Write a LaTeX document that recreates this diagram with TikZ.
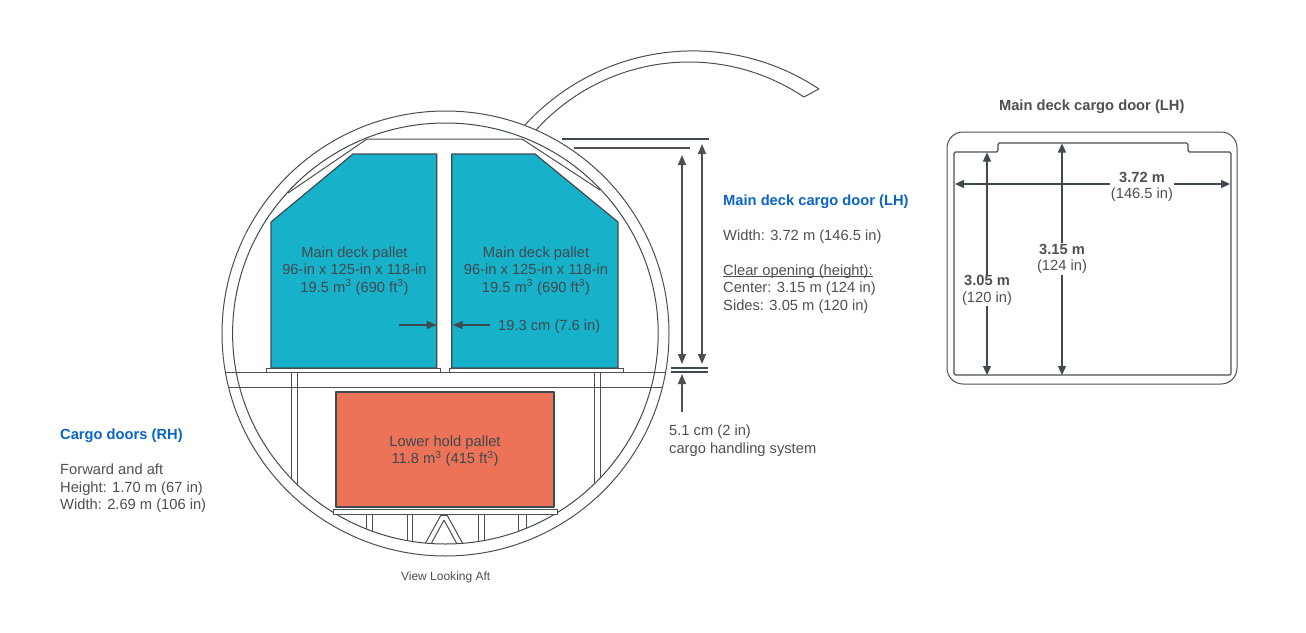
\documentclass[tikz,border=0pt]{standalone}
\usepackage{fontspec}
\setmainfont{Liberation Sans}
\usetikzlibrary{arrows.meta}
\definecolor{linec}{HTML}{4F4F4F}
\definecolor{darkc}{HTML}{3F4A50}
\definecolor{textc}{HTML}{505050}
\definecolor{tealc}{HTML}{17B1C9}
\definecolor{redc}{HTML}{EC7258}
\definecolor{bluec}{HTML}{0A66C2}
\newlength\myulw
\newcommand\myul[1]{\settowidth{\myulw}{#1}\leavevmode\rlap{\rule[-1.6pt]{\myulw}{0.8pt}}#1}
\tikzset{
  thin line/.style={draw=linec,line width=1pt},
  pallet/.style={draw=darkc,line width=1.2pt,line join=round},
  dimline/.style={draw=linec,line width=1.3pt,-{Triangle[length=10pt,width=8pt]}},
  bothdim/.style={draw=darkc,line width=1.3pt,{Triangle[length=9pt,width=8pt]}-{Triangle[length=9pt,width=8pt]}},
  rule/.style={draw=darkc,line width=1.3pt},
  label/.style={text=textc,font=\fontsize{14.7}{17.4}\selectfont,inner sep=0pt,align=center},
  leftlabel/.style={label,align=left,anchor=west},
  head/.style={text=bluec,font=\fontsize{14.7}{17.4}\selectfont\bfseries,inner sep=0pt,anchor=west},
  doordim/.style={label,fill=white,inner sep=1pt,font=\fontsize{14.7}{16.4}\selectfont}
}
\begin{document}
\begin{tikzpicture}[x=1pt,y=-1pt]
\useasboundingbox (0,0) rectangle (1306,632);
\fill[white] (0,0) rectangle (1306,632);
% door arc
\draw[thin line,line join=round] plot[domain=-137.6:-56.4,samples=70] ({693+227.5*cos(\x)},{278.4+227.5*sin(\x)})
  -- plot[domain=-56.1:-137.9,samples=70] ({689+206.1*cos(\x)},{268.1+206.1*sin(\x)});
% fuselage
\fill[white] (445.5,333.5) ellipse [x radius=223.5,y radius=222.5];
\draw[thin line] (445.5,333.5) ellipse [x radius=223.5,y radius=222.5];
\draw[thin line,draw=darkc] (445.4,333.5) ellipse [x radius=212.8,y radius=210.5];
% ceiling
\draw[thin line] (288,193) -- (367,139) -- (522,139) -- (600,190);
% floors
\begin{scope}
\clip (445.5,333.5) ellipse [x radius=223.5,y radius=222.5];
\draw[thin line] (200,372) -- (690,372);
\draw[thin line] (200,387) -- (690,387);
\end{scope}
% struts
\begin{scope}
\clip (445.4,333.5) ellipse [x radius=212.8,y radius=210.5];
\draw[thin line] (291,372) -- (291,560) (297,372) -- (297,560);
\draw[thin line] (594,372) -- (594,560) (600,372) -- (600,560);
\draw[thin line] (366,514) -- (366,560) (372,514) -- (372,560);
\draw[thin line] (407,514) -- (407,560) (412,514) -- (412,560);
\draw[thin line] (478,514) -- (478,560) (484,514) -- (484,560);
\draw[thin line] (518,514) -- (518,560) (526,514) -- (526,560);
\draw[thin line] (441,515) -- (425,544) (444,520) -- (431,544);
\draw[thin line] (447,515) -- (463,544) (444,520) -- (457,544);
\draw[thin line] (441,515) -- (447,515);
\end{scope}
% plates
\draw[thin line,fill=white] (266,368) rectangle (440,372);
\draw[thin line,fill=white] (449,368) rectangle (623,372);
\draw[thin line,fill=white] (333,509) rectangle (557,514);
% pallets
\draw[pallet,fill=tealc] (271,222) -- (353,154) -- (436.7,154) -- (436.7,368) -- (271,368) -- cycle;
\draw[pallet,fill=tealc] (451.7,154) -- (535,154) -- (618,222) -- (618,368) -- (451.7,368) -- cycle;
\draw[pallet,fill=redc] (336,392) rectangle (554,507);
% pallet texts
\node[label,text=darkc] (palletL) at (354.5,271) {Main deck pallet\\96-in x 125-in x 118-in\\19.5 m\textsuperscript{3} (690 ft\textsuperscript{3})};
\node[label,text=darkc] (palletR) at (536,271) {Main deck pallet\\96-in x 125-in x 118-in\\19.5 m\textsuperscript{3} (690 ft\textsuperscript{3})};
\node[label,text=darkc] (lower) at (445,451) {Lower hold pallet\\11.8 m\textsuperscript{3} (415 ft\textsuperscript{3})};
\node[label,text=darkc,anchor=west] (gap) at (498,326.5) {19.3 cm (7.6 in)};
% gap arrows
\coordinate (gapLa) at (399,325); \coordinate (gapLb) at (436.7,325);
\coordinate (gapRa) at (490,325); \coordinate (gapRb) at (452.7,325);
\draw[dimline,draw=darkc] (gapLa) -- (gapLb);
\draw[dimline,draw=darkc] (gapRa) -- (gapRb);
% height dims
\coordinate (r1a) at (562,139); \coordinate (r1b) at (709,139);
\coordinate (r2a) at (574,148); \coordinate (r2b) at (690,148);
\coordinate (r3a) at (671,368); \coordinate (r3b) at (708,368);
\coordinate (r4a) at (671,372); \coordinate (r4b) at (708,372);
\draw[rule] (r1a) -- (r1b);
\draw[rule,draw=linec] (r2a) -- (r2b);
\draw[rule] (r3a) -- (r3b);
\draw[rule] (r4a) -- (r4b);
\coordinate (h1a) at (682,155); \coordinate (h1b) at (682,364);
\coordinate (h2a) at (702,144); \coordinate (h2b) at (702,364);
\coordinate (h3a) at (682,412); \coordinate (h3b) at (682,374);
\draw[dimline,{Triangle[length=10pt,width=8pt]}-{Triangle[length=10pt,width=8pt]}] (h1a) -- (h1b);
\draw[dimline,{Triangle[length=10pt,width=8pt]}-{Triangle[length=10pt,width=8pt]}] (h2a) -- (h2b);
\draw[dimline] (h3a) -- (h3b);
% side texts
\node[head] (headLH) at (723,201.5) {Main deck cargo door (LH)};
\node[leftlabel] (width) at (723,236.5) {Width: 3.72 m (146.5 in)};
\node[leftlabel] (clear) at (723,289) {\myul{Clear opening (height):}\\Center: 3.15 m (124 in)\\Sides: 3.05 m (120 in)};
\node[leftlabel] (handling) at (669,440.5) {5.1 cm (2 in)\\cargo handling system};
\node[head] (headRH) at (60,435.5) {Cargo doors (RH)};
\node[leftlabel] (rh) at (60,488.5) {Forward and aft\\Height: 1.70 m (67 in)\\Width: 2.69 m (106 in)};
\node[label,font=\fontsize{12}{14}\selectfont] (view) at (445.7,577) {View Looking Aft};
% door panel
\node[label,font=\fontsize{14.7}{17.4}\selectfont\bfseries] (doortitle) at (1091.7,106.5) {Main deck cargo door (LH)};
\draw[thin line,rounded corners=16pt] (947,132) rectangle (1237,384);
\draw[thin line,line width=1.3pt,rounded corners=1.5pt] (954,375) -- (954,152) -- (998,152) -- (998,143) -- (1188,143) -- (1188,152) -- (1231,152) -- (1231,375) -- cycle;
\coordinate (w1) at (955,184); \coordinate (w2) at (1230,184);
\coordinate (c1) at (1062,143.5); \coordinate (c2) at (1062,375);
\coordinate (s1) at (987,152.5); \coordinate (s2) at (987,375);
\draw[bothdim] (w1) -- (w2);
\draw[bothdim] (c1) -- (c2);
\draw[bothdim] (s1) -- (s2);
\node[doordim] (d372) at (1142,187) {\textbf{3.72 m}\\(146.5 in)};
\node[doordim] (d315) at (1062,259) {\textbf{3.15 m}\\(124 in)};
\node[doordim] (d305) at (987,290.5) {\textbf{3.05 m}\\(120 in)};
\end{tikzpicture}
\end{document}
